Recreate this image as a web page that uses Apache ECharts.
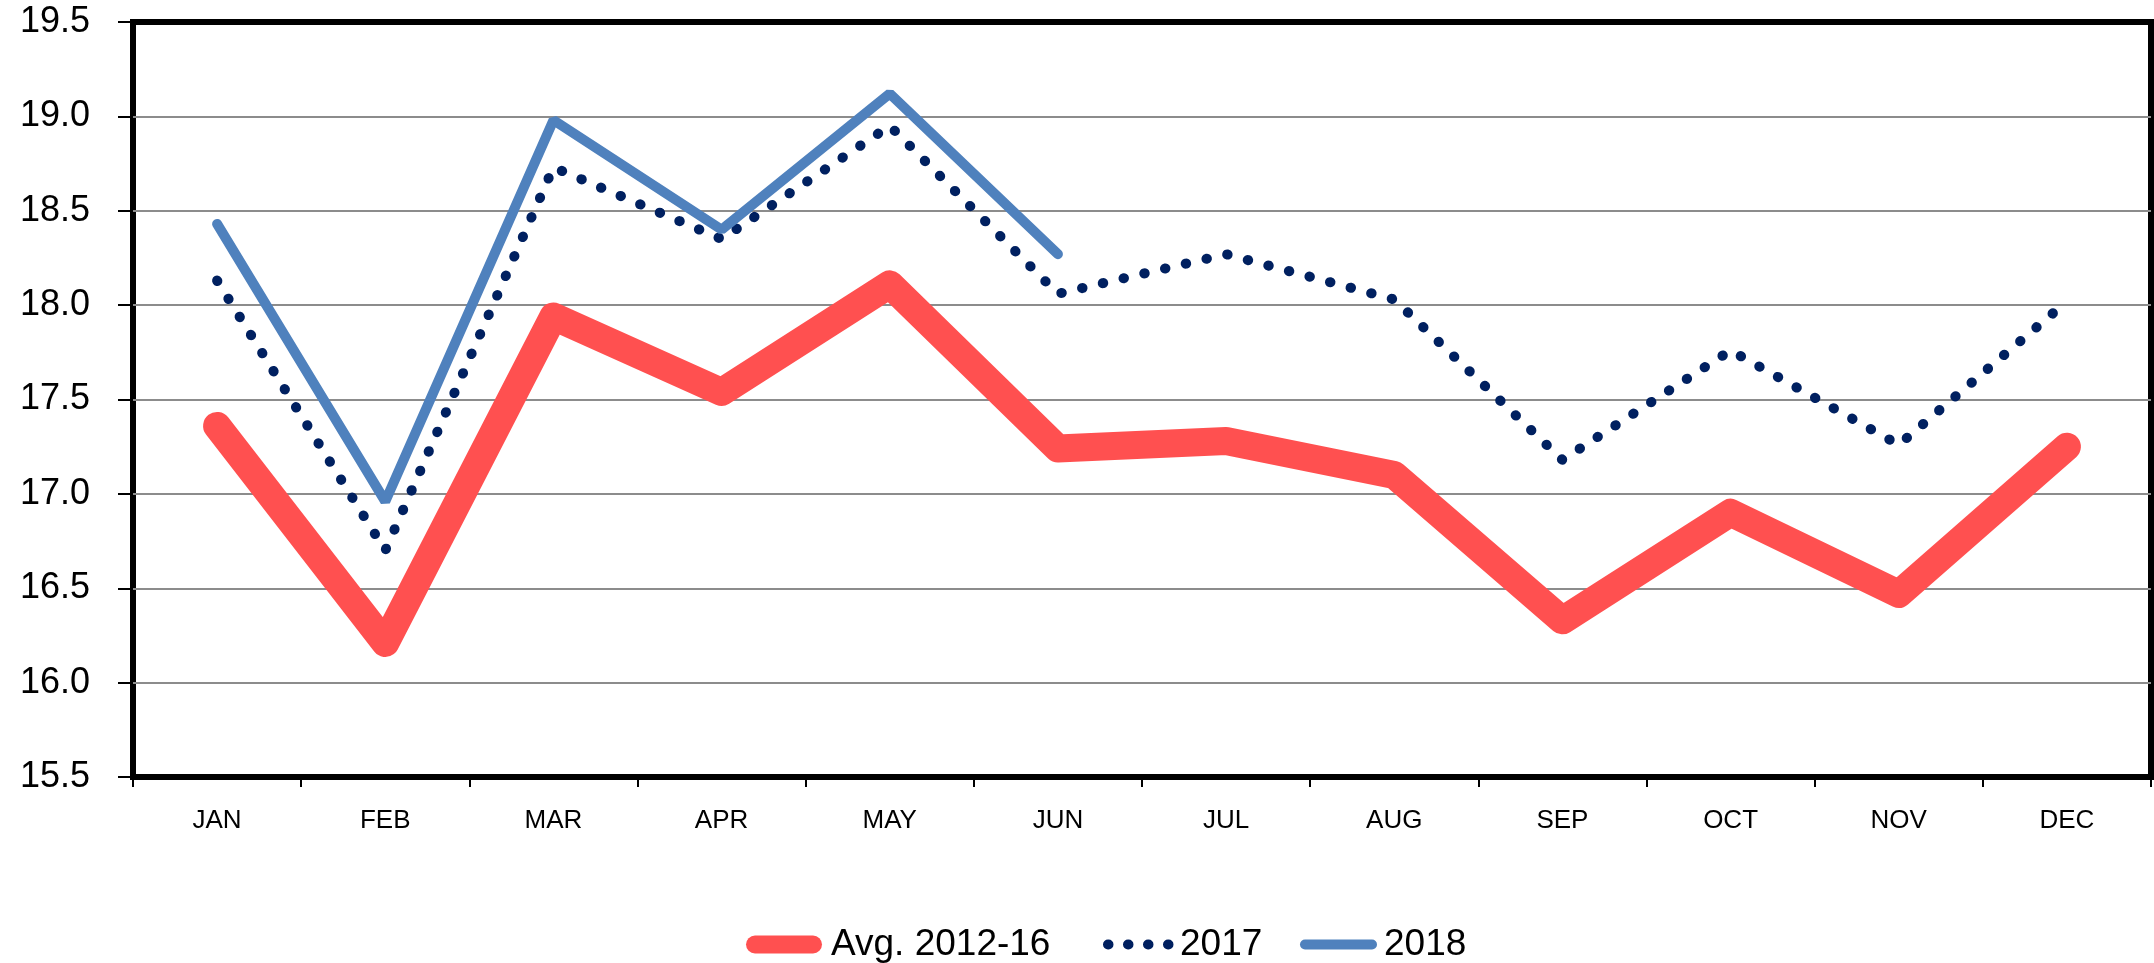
<!DOCTYPE html>
<html lang="en">
<head>
    <meta charset="UTF-8">
    <title>Monthly chart</title>
    <script src="https://cdn.jsdelivr.net/npm/echarts@6/dist/echarts.min.js"></script>
    <style>
        html, body { margin: 0; padding: 0; background: #fff; }
    </style>
</head>
<body>
<div id="chart" style="width:2154px; height:963px"></div>
<script type="text/javascript">
    // data
    var months = ["JAN", "FEB", "MAR", "APR", "MAY", "JUN", "JUL", "AUG", "SEP", "OCT", "NOV", "DEC"];
    var seriesNames = ["Avg. 2012-16", "2017", "2018"];
    var avg1216 = [17.36, 16.21, 17.94, 17.54, 18.11, 17.24, 17.28, 17.10, 16.33, 16.90, 16.47, 17.25];
    var y2017 = [18.13, 16.70, 18.73, 18.35, 18.95, 18.06, 18.27, 18.03, 17.18, 17.76, 17.26, 18.02];
    var y2018 = [18.43, 16.96, 18.98, 18.40, 19.12, 18.27, null, null, null, null, null, null];
    var yMin = 15.5, yMax = 19.5, yStep = 0.5;

    var red = '#FF5050', navy = '#002060', blue = '#4F81BD';
    var font = 'Liberation Sans';

    var myChart = echarts.init(document.getElementById('chart'));

    // one small legend per series so every icon can have its own size
    function legendFor(name, left, width, lineStyle, pad) {
        return {
            data: [name],
            left: left,
            top: 921,
            itemWidth: width,
            itemHeight: 20,
            lineStyle: lineStyle,
            itemStyle: { opacity: 0 },     // hide the little circle in the middle
            selectedMode: false,
            textStyle: { fontFamily: font, fontSize: 37, color: '#000', padding: [0, 0, 0, pad] }
        };
    }

    myChart.setOption({
        animation: false,
        backgroundColor: '#fff',
        grid: {
            left: 133, right: 3, top: 22, bottom: 186,
            show: true,
            borderColor: '#000',
            borderWidth: 6
        },
        legend: [
            legendFor(seriesNames[0], 741, 58, { width: 18, cap: 'round' }, 13),
            legendFor(seriesNames[1], 1098, 61, { width: 10, cap: 'round', type: [0.5, 19.5] }, 6),
            legendFor(seriesNames[2], 1295, 67, { width: 10, cap: 'round' }, 7)
        ],
        xAxis: {
            type: 'category',
            data: months,
            boundaryGap: true,
            axisLine: { show: false },
            axisTick: { show: true, length: 10, lineStyle: { color: '#000', width: 2 } },
            axisLabel: { fontFamily: font, fontSize: 26, color: '#000', margin: 31 },
            splitLine: { show: false }
        },
        yAxis: {
            type: 'value',
            min: yMin,
            max: yMax,
            interval: yStep,
            axisLine: { show: false },
            axisTick: { show: true, length: 15, lineStyle: { color: '#000', width: 2 } },
            axisLabel: {
                fontFamily: font, fontSize: 36, color: '#000', margin: 43,
                formatter: function (v) { return v.toFixed(1); }
            },
            splitLine: {
                show: true,
                showMinLine: false,
                showMaxLine: false,
                lineStyle: { color: '#8c8c8c', width: 2 }
            }
        },
        series: [
            {
                name: seriesNames[0],
                type: 'line',
                data: avg1216,
                symbol: 'none',
                color: red,
                lineStyle: { color: red, width: 28, cap: 'round', join: 'round' }
            },
            {
                name: seriesNames[1],
                type: 'line',
                data: y2017,
                symbol: 'none',
                color: navy,
                lineStyle: { color: navy, width: 10, type: [0.5, 20.8], cap: 'round', join: 'round' }
            },
            {
                name: seriesNames[2],
                type: 'line',
                data: y2018,
                symbol: 'none',
                color: blue,
                lineStyle: { color: blue, width: 10, cap: 'round' }
            }
        ]
    });
</script>
</body>
</html>
